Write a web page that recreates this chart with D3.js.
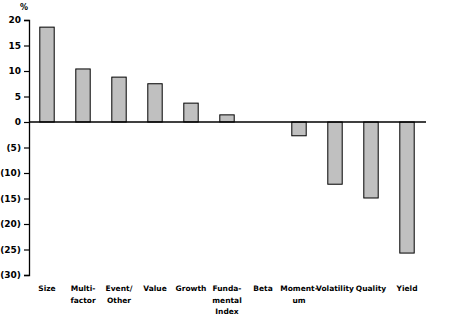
<!DOCTYPE html>
<html><head><meta charset="utf-8">
<script src="https://cdn.jsdelivr.net/npm/d3@7"></script>
<style>html,body{margin:0;padding:0;background:#fff;}svg{display:block;}</style>
</head><body>
<svg id="c" width="452" height="326"></svg>
<script>
const categories = ["Size","Multi-\nfactor","Event/\nOther","Value","Growth","Funda-\nmental\nIndex","Beta","Moment-\num","Volatility","Quality","Yield"];
const values = [18.6, 10.4, 8.8, 7.5, 3.7, 1.4, 0, -2.7, -12.2, -14.9, -25.7];
const yTicks = [20, 15, 10, 5, 0, -5, -10, -15, -20, -25, -30];
const tickLabels = ["20","15","10","5","0","(5)","(10)","(15)","(20)","(25)","(30)"];

const svg = d3.select("#c");
const x = d3.scaleBand().domain(categories).range([29, 425]).paddingInner(0.6).paddingOuter(0.3);
const y = d3.scaleLinear().domain([-30, 20]).range([275, 20]);
const font = "'DejaVu Sans', Verdana, sans-serif";

svg.selectAll("rect.bar").data(values).join("rect")
  .attr("class","bar")
  .attr("x", (d,i) => x(categories[i]))
  .attr("width", x.bandwidth())
  .attr("y", d => y(Math.max(0,d)))
  .attr("height", d => Math.abs(y(d)-y(0)))
  .attr("fill","#c0c0c0").attr("stroke","#000").attr("stroke-width",1)
  .attr("display", d => d===0 ? "none" : null);

// y axis
const ya = svg.append("g").attr("transform","translate(29,0)")
  .call(d3.axisLeft(y).tickValues(yTicks).tickSize(5).tickPadding(3).tickFormat((d,i)=>tickLabels[i]));
ya.select(".domain").attr("stroke","#000").attr("stroke-width",1.3);
ya.selectAll(".tick line").attr("stroke","#000").attr("stroke-width",1.2);
ya.selectAll(".tick text").attr("font-family",font).attr("font-size",9).attr("font-weight","bold").attr("fill","#000");

// zero line
svg.append("line").attr("x1",29).attr("x2",426).attr("y1",y(0)).attr("y2",y(0)).attr("stroke","#000").attr("stroke-width",1.3);

svg.append("text").attr("x",24).attr("y",10).attr("text-anchor","middle")
  .attr("font-family",font).attr("font-size",8).attr("font-weight","bold").text("%");

// category labels
const lab = svg.append("g");
categories.forEach((c,i) => {
  const t = lab.append("text").attr("x", x(c)+x.bandwidth()/2).attr("y", 291)
    .attr("text-anchor","middle").attr("font-family",font).attr("font-size",7.5).attr("font-weight","bold");
  c.split("\n").forEach((line,j) => {
    t.append("tspan").attr("x", x(c)+x.bandwidth()/2).attr("dy", j===0?0:11.5).text(line);
  });
});
</script>
</body></html>
